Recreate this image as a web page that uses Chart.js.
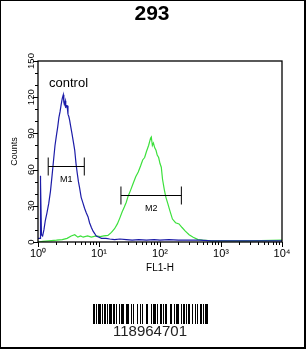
<!DOCTYPE html>
<html>
<head>
<meta charset="utf-8">
<script src="https://cdn.jsdelivr.net/npm/chart.js@4.4.0/dist/chart.umd.min.js"></script>
<style>
  html, body { margin: 0; padding: 0; background: #fff; }
  #frame {
    position: relative; width: 306px; height: 349px; box-sizing: border-box; overflow: hidden;
    border-left: 1px solid #000; border-top: 1px solid #000;
    border-right: 2px solid #000; border-bottom: 2px solid #000;
  }
  #chart { position: absolute; left: -1px; top: -1px; }
  #barcode { position: absolute; left: 92px; top: 303px; width: 115px; height: 20px; display: flex; }
  #barcode span { display: block; height: 100%; }
  #code {
    position: absolute; left: 112px; top: 321px; line-height: 17px;
    font: 15px "Liberation Sans", Arial, sans-serif; color: #222;
  }
</style>
</head>
<body>
<div id="frame">
  <canvas id="chart" width="306" height="349"></canvas>
  <div id="barcode"></div>
  <div id="code"></div>
</div>
<script>
const blueX = [1.0, 1.08, 1.09, 1.11, 1.14, 1.19, 1.25, 1.32, 1.4, 1.5, 1.6, 1.7, 1.8, 1.9, 2.0, 2.1, 2.2, 2.3, 2.4, 2.5,
  2.6, 2.65, 2.7, 2.8, 2.85, 2.9, 3.0, 3.1, 3.2, 3.3, 3.4, 3.6, 3.8, 4.0, 4.2, 4.4, 4.6, 4.8, 5.1, 5.4,
  5.8, 6.2, 6.6, 7.0, 7.5, 8.0, 8.5, 9.0, 10, 11, 13, 15, 18, 22, 28, 35, 45, 60, 80, 100,
  140, 200, 300, 450, 700, 1000, 2000, 5000, 10000];
const blueY = [3, 3, 55, 50, 6, 5, 10, 18, 24, 32, 42, 55, 68, 80, 88, 95, 103, 108, 114, 119,
  122, 116, 114, 117, 111, 113, 113, 106, 104, 101, 97, 90, 83, 76, 65, 57, 50, 45, 37, 33,
  28, 24, 21, 16, 12, 9, 7, 5, 4, 3, 3, 2.5, 2, 2.5, 2, 1.5, 2, 1.5, 2, 1.5,
  2, 1.5, 1.5, 1.5, 1, 1, 1, 1, 1];

const greenX = [1.0, 1.2, 1.5, 2.0, 2.5, 3.0, 3.5, 4.0, 4.5, 5.0, 5.5, 6.5, 7.5, 9, 10.5, 12, 14, 16, 18, 20,
  22, 24, 26, 28, 30, 33, 36, 40, 44, 48, 52, 56, 60, 65, 70, 72, 75, 78, 82, 86,
  90, 95, 100, 105, 110, 118, 125, 134, 145, 160, 180, 205, 230, 260, 300, 350, 420, 500, 700, 1000,
  3000, 10000];
const greenY = [0, 0.5, 1, 1.5, 2, 3, 5, 6, 4, 5, 4, 5, 4, 5, 4.5, 5, 5.5, 8, 11, 15,
  20, 25, 29, 33, 38, 43, 48, 54, 58, 63, 68, 70, 75, 80, 86, 87, 80, 82, 78, 76,
  72, 70, 65, 62, 52, 43, 37, 32, 26, 19, 16, 15, 12, 9, 6, 4, 2, 1.5, 1, 1,
  1, 1.5];

const xTickValues = [1, 10, 100, 1000, 10000];
const yTickValues = [0, 30, 60, 90, 120, 150];
const superscripts = ['\u2070', '\u00b9', '\u00b2', '\u00b3', '\u2074'];

// marcadores M1 e M2: [inicio, fim, altura]
const markerM1 = [1.47, 5.74, 63];
const markerM2 = [22.9, 224, 39];

const barcodeWidths = [2, 1, 1, 1, 3, 1, 1, 2, 2, 1, 1, 1, 3, 1, 2, 1, 1, 2, 1, 1, 3, 2, 1, 1, 2, 2, 1, 1, 1, 3,
  1, 2, 1, 1, 1, 3, 2, 1, 1, 2, 1, 1, 3, 1, 1, 2, 2, 1, 1, 1, 2, 3, 1, 1, 1, 2, 1, 1, 3, 2,
  1, 1, 2, 1, 1, 1, 2, 2, 1, 3, 1, 1, 1, 2, 2, 1, 1, 1, 3];
const barcodeNumber = '118964701';

// Desenhar o código de barras
const barcode = document.getElementById('barcode');
barcodeWidths.forEach((w, i) => {
    const bar = document.createElement('span');
    bar.style.flex = w + ' 0 0';
    bar.style.background = i % 2 === 0 ? '#000' : '#fff';
    barcode.appendChild(bar);
});
document.getElementById('code').textContent = barcodeNumber;

Chart.defaults.color = '#000';
Chart.defaults.font.family = '"Liberation Sans", Arial, sans-serif';

// Plugin para moldura, marcas dos eixos, marcadores e textos
const overlay = {
    id: 'overlay',
    afterDraw(chart) {
        const ctx = chart.ctx;
        const area = chart.chartArea;
        const x = chart.scales.x;
        const y = chart.scales.y;
        ctx.save();
        ctx.strokeStyle = '#000';
        ctx.lineWidth = 1.3;
        ctx.strokeRect(area.left, area.top, area.right - area.left, area.bottom - area.top);

        // marcas do eixo x (log)
        ctx.lineWidth = 1;
        ctx.beginPath();
        for (let d = 0; d < 4; d++) {
            for (let k = 1; k <= 9; k++) {
                const px = Math.round(x.getPixelForValue(k * Math.pow(10, d))) + 0.5;
                const len = k === 1 ? 5 : 3;
                ctx.moveTo(px, area.bottom);
                ctx.lineTo(px, area.bottom + len);
            }
        }
        const pEnd = Math.round(x.getPixelForValue(10000)) + 0.5;
        ctx.moveTo(pEnd, area.bottom);
        ctx.lineTo(pEnd, area.bottom + 5);

        // marcas do eixo y
        for (let v = 0; v <= 150; v += 10) {
            const py = Math.round(y.getPixelForValue(v)) + 0.5;
            const len = v % 30 === 0 ? 5 : 3;
            ctx.moveTo(area.left, py);
            ctx.lineTo(area.left - len, py);
        }
        ctx.stroke();

        // marcadores M1 / M2
        [[markerM1, 'M1'], [markerM2, 'M2']].forEach(([m, label]) => {
            const x1 = x.getPixelForValue(m[0]);
            const x2 = x.getPixelForValue(m[1]);
            const py = Math.round(y.getPixelForValue(m[2])) + 0.5;
            ctx.beginPath();
            ctx.moveTo(x1, py); ctx.lineTo(x2, py);
            ctx.moveTo(x1, py - 9); ctx.lineTo(x1, py + 9);
            ctx.moveTo(x2, py - 9); ctx.lineTo(x2, py + 9);
            ctx.stroke();
            ctx.font = '9px "Liberation Sans", Arial, sans-serif';
            ctx.textAlign = 'center';
            ctx.textBaseline = 'middle';
            ctx.fillText(label, (x1 + x2) / 2, py + 13);
        });

        // título e texto "control"
        ctx.font = 'bold 21px "Liberation Sans", Arial, sans-serif';
        ctx.textAlign = 'center';
        ctx.textBaseline = 'alphabetic';
        ctx.fillText('293', 152, 20);
        ctx.font = '13px "Liberation Sans", Arial, sans-serif';
        ctx.textAlign = 'left';
        ctx.fillText('control', 49, 87);
        ctx.restore();
    }
};

const toPoints = (xs, ys) => xs.map((v, i) => ({ x: v, y: ys[i] }));

new Chart(document.getElementById('chart').getContext('2d'), {
    type: 'line',
    data: {
        datasets: [{
            label: 'control',
            data: toPoints(blueX, blueY),
            borderColor: '#1c1ca8',
            borderWidth: 1.2,
            pointRadius: 0,
            tension: 0
        }, {
            label: '293',
            data: toPoints(greenX, greenY),
            borderColor: '#3ce03c',
            borderWidth: 1.2,
            pointRadius: 0,
            tension: 0
        }]
    },
    options: {
        responsive: false,
        animation: false,
        devicePixelRatio: 1,
        layout: { padding: { top: 61, right: 24, bottom: 72, left: 0 } },
        plugins: { legend: { display: false }, tooltip: { enabled: false } },
        scales: {
            x: {
                type: 'logarithmic',
                min: 1,
                max: 10000,
                grid: { display: false, drawTicks: false },
                border: { display: false },
                ticks: {
                    autoSkip: false,
                    minRotation: 0,
                    maxRotation: 0,
                    padding: 5,
                    font: { size: 11 },
                    callback: (value) => {
                        const e = xTickValues.indexOf(value);
                        return e >= 0 ? '10' + superscripts[e] : '';
                    }
                },
                title: { display: true, text: 'FL1-H', font: { size: 10 }, padding: { top: 0, bottom: 2.5 } },
                afterFit: (scale) => { scale.height = 35; }
            },
            y: {
                min: 0,
                max: 150,
                grid: { display: false, drawTicks: false },
                border: { display: false },
                afterBuildTicks: (scale) => { scale.ticks = yTickValues.map(v => ({ value: v })); },
                ticks: {
                    minRotation: 90,
                    maxRotation: 90,
                    crossAlign: 'center',
                    padding: -1,
                    font: { size: 9.5 }
                },
                title: { display: true, text: 'Counts', font: { size: 9 }, padding: { top: 9.6, bottom: 0 } },
                afterFit: (scale) => { scale.width = 38; }
            }
        }
    },
    plugins: [overlay]
});
</script>
</body>
</html>
